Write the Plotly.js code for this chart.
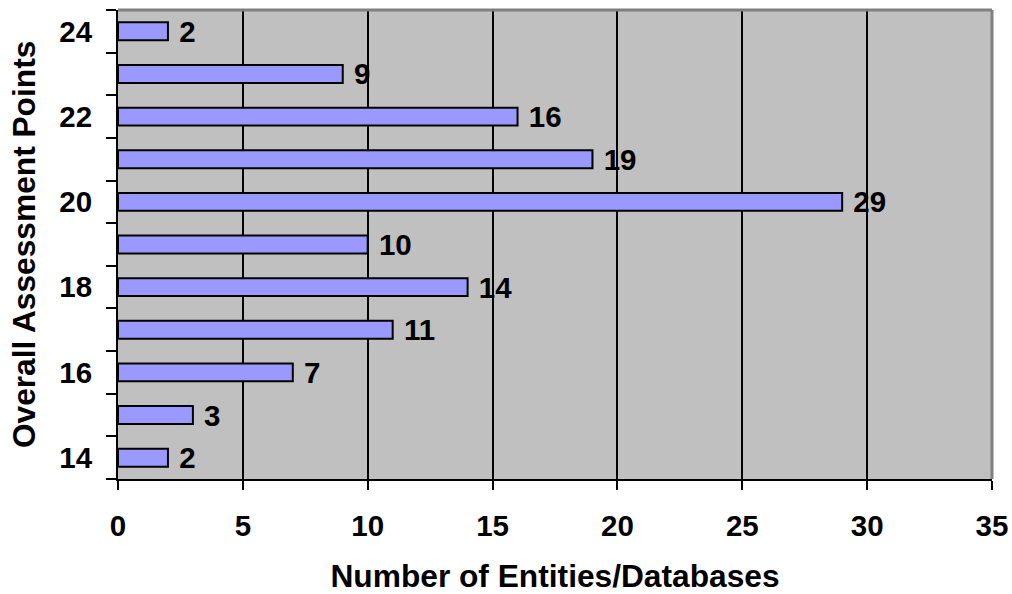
<!DOCTYPE html>
<html>
<head>
<meta charset="utf-8">
<script src="https://cdn.plot.ly/plotly-3.0.1.min.js"></script>
<style>html,body{margin:0;padding:0;background:#fff;}#chart{width:1012px;height:594px;}</style>
</head>
<body>
<div id="chart"></div>
<script>
const points = [14, 15, 16, 17, 18, 19, 20, 21, 22, 23, 24];
const entities = [2, 3, 7, 11, 14, 10, 29, 19, 16, 9, 2];
const yTickVals = [14, 16, 18, 20, 22, 24];
const xTickVals = [0, 5, 10, 15, 20, 25, 30, 35];
const xTitle = 'Number of Entities/Databases';
const yTitle = 'Overall Assessment Points';

const font = 'Liberation Sans, Arial, sans-serif';

const trace = {
  type: 'bar',
  orientation: 'h',
  x: entities,
  y: points,
  width: 0.42,
  marker: {color: '#9999FF', line: {color: '#000000', width: 2}},
  text: entities.map(v => '\u00a0' + v),
  textposition: 'outside',
  constraintext: 'none',
  cliponaxis: false,
  textfont: {family: font, size: 29.5, color: '#000', weight: 'bold'},
  hoverinfo: 'none'
};

const layout = {
  width: 1012, height: 594,
  margin: {l: 118, r: 20, t: 10, b: 115},
  paper_bgcolor: '#ffffff',
  plot_bgcolor: '#C0C0C0',
  showlegend: false,
  font: {family: font, color: '#000', weight: 'bold'},
  xaxis: {
    range: [0, 35],
    tickvals: xTickVals,
    ticks: 'outside', ticklen: 9, tickwidth: 2, tickcolor: '#000',
    showline: true, linecolor: '#000', linewidth: 2,
    showgrid: true, gridcolor: '#000', gridwidth: 2,
    zeroline: false,
    tickfont: {family: font, size: 29.5, color: '#000', weight: 'bold'},
    ticklabelstandoff: 11,
    title: {text: xTitle, font: {family: font, size: 31.7, color: '#000', weight: 'bold'}, standoff: 30}
  },
  yaxis: {
    range: [13.5, 24.5],
    tickvals: yTickVals,
    ticks: '',
    showline: true, linecolor: '#000', linewidth: 2,
    showgrid: false, zeroline: false,
    minor: {tick0: 13.5, dtick: 1, ticks: 'outside', ticklen: 10, tickwidth: 2, tickcolor: '#000', showgrid: false},
    tickfont: {family: font, size: 29.5, color: '#000', weight: 'bold'},
    ticklabelstandoff: 18
  },
  annotations: [{
    text: yTitle, textangle: -90, showarrow: false,
    xref: 'paper', yref: 'paper', x: -0.108, y: 0.5,
    xanchor: 'center', yanchor: 'middle',
    font: {family: font, size: 31.7, color: '#000', weight: 'bold'}
  }],
  shapes: [
    {type: 'line', xref: 'paper', yref: 'paper', x0: 0, x1: 1, y0: 1, y1: 1, line: {color: '#808080', width: 3}, layer: 'above'},
    {type: 'line', xref: 'paper', yref: 'paper', x0: 1, x1: 1, y0: 0, y1: 1, line: {color: '#808080', width: 3}, layer: 'above'}
  ]
};

Plotly.newPlot('chart', [trace], layout, {displayModeBar: false, staticPlot: true});
</script>
</body>
</html>
